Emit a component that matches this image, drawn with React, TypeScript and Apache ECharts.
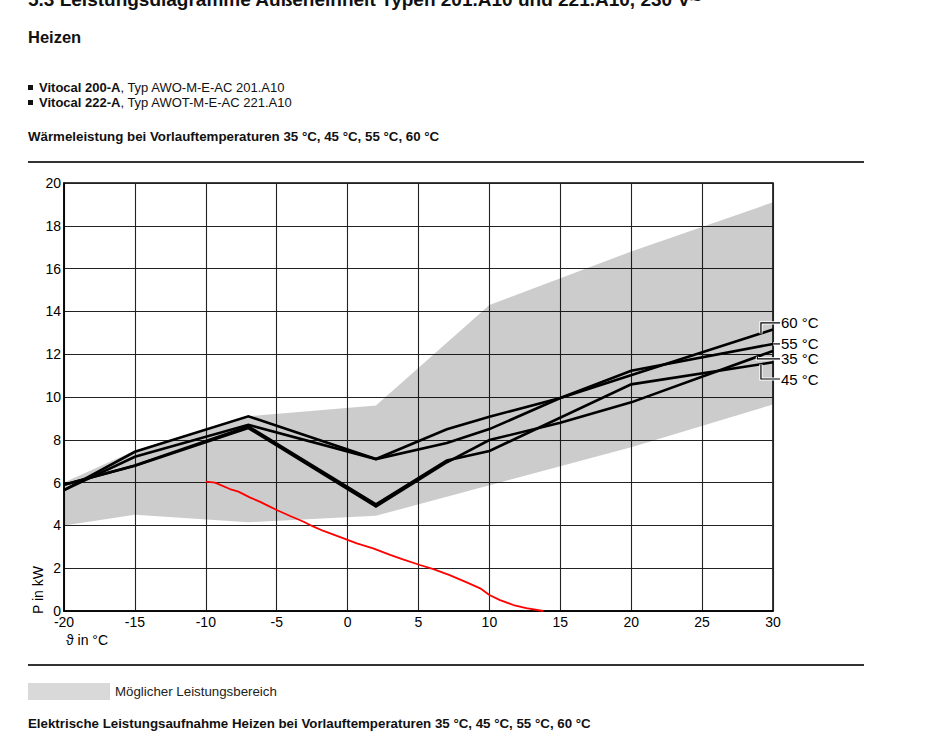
import React, { useEffect, useRef } from "react";
import * as echarts from "echarts";

// ---- data ----
const xMin = -20;
const xMax = 30;
const xStep = 5;
const yMin = 0;
const yMax = 20;
const yStep = 2;

// possible output range (upper and lower boundary)
const bandUpper: [number, number][] = [
  [-20, 6.0], [-15, 7.5], [-7, 9.1], [2, 9.6], [10, 14.3], [20, 16.8], [30, 19.1],
];
const bandLower: [number, number][] = [
  [-20, 4.0], [-15, 4.5], [-7, 4.15], [2, 4.45], [20, 7.65], [30, 9.65],
];

// heat output per flow temperature
const line35: [number, number][] = [
  [-20, 5.9], [-15, 6.79], [-7, 8.55], [2, 4.88], [7, 6.95], [10, 7.99], [15, 8.8], [20, 9.75], [30, 12.15],
];
const line45: [number, number][] = [
  [-20, 5.9], [-15, 6.8], [-7, 8.63], [2, 4.98], [7, 7.03], [10, 7.48], [20, 10.59], [30, 11.62],
];
const line55: [number, number][] = [
  [-20, 5.65], [-15, 7.44], [-7, 9.1], [2, 7.1], [7, 8.49], [10, 9.08], [15, 9.95], [20, 11.23], [30, 12.48],
];
const line60: [number, number][] = [
  [-20, 5.65], [-15, 7.21], [-7, 8.7], [2, 7.1], [7, 7.85], [10, 8.5], [15, 9.95], [30, 13.15],
];

// red curve
const redLine: [number, number][] = [
  [-10, 6.05], [-9.35, 6.0], [-8.3, 5.7], [-7.7, 5.58], [-6.9, 5.31], [-6.2, 5.11], [-5.7, 4.95],
  [-5, 4.72], [-4.05, 4.44], [-3.1, 4.17], [-2.4, 3.94], [-1.7, 3.74], [-0.8, 3.52], [0, 3.32],
  [0.65, 3.16], [1.8, 2.93], [3, 2.62], [3.9, 2.41], [5.1, 2.15], [6.05, 1.96], [7.2, 1.68],
  [8.4, 1.34], [9.35, 1.06], [10, 0.75], [10.75, 0.51], [11.7, 0.28], [12.6, 0.13], [13.8, 0],
];

const seriesLabels = ["60 °C", "55 °C", "35 °C", "45 °C"];
const seriesForLabels = [line60, line55, line35, line45];
// annotation layout: where the leader touches the curve, and label height (data units)
const leaderAnchorX = [29.15, 30, 28.9, 29.15];
const labelLevel: (number | null)[] = [13.46, null, 11.78, 10.84];

const FONT = "'Liberation Sans', Arial, Helvetica, sans-serif";

function interp(line: [number, number][], x: number): number {
  for (let i = 0; i < line.length - 1; i++) {
    const [x0, y0] = line[i];
    const [x1, y1] = line[i + 1];
    if (x >= x0 && x <= x1) return y0 + ((y1 - y0) * (x - x0)) / (x1 - x0);
  }
  return line[line.length - 1][1];
}

function baseGraphics(): any[] {
  const txt = (x: number, y: number, text: string, size: number, bold = false, color = "#111") => ({
    type: "text",
    x,
    y,
    silent: true,
    style: {
      text,
      fill: color,
      font: `${bold ? "bold " : ""}${size}px ${FONT}`,
      textVerticalAlign: "middle",
      textAlign: "left",
    },
  });
  const richTxt = (x: number, y: number, boldPart: string, rest: string) => ({
    type: "text",
    x,
    y,
    silent: true,
    style: {
      text: `{b|${boldPart}}${rest}`,
      fill: "#111",
      fontSize: 13,
      fontFamily: FONT,
      verticalAlign: "middle",
      align: "left",
      rich: { b: { fontWeight: "bold", fontSize: 13, fontFamily: FONT, fill: "#111" } },
    },
  });
  return [
    txt(28, -1, "5.3 Leistungsdiagramme Außeneinheit Typen 201.A10 und 221.A10, 230 V~", 19, true),
    txt(28, 37, "Heizen", 16.5, true),
    { type: "rect", shape: { x: 28, y: 85, width: 5, height: 5 }, style: { fill: "#111" } },
    richTxt(39, 87, "Vitocal 200-A", ", Typ AWO-M-E-AC 201.A10"),
    { type: "rect", shape: { x: 28, y: 100, width: 5, height: 5 }, style: { fill: "#111" } },
    richTxt(39, 102, "Vitocal 222-A", ", Typ AWOT-M-E-AC 221.A10"),
    txt(28, 136, "Wärmeleistung bei Vorlauftemperaturen 35 °C, 45 °C, 55 °C, 60 °C", 13.3, true),
    { type: "line", shape: { x1: 28, y1: 162, x2: 864, y2: 162 }, style: { stroke: "#333", lineWidth: 2 } },
    { type: "line", shape: { x1: 28, y1: 665, x2: 864, y2: 665 }, style: { stroke: "#333", lineWidth: 2 } },
    { type: "rect", shape: { x: 28, y: 683, width: 82, height: 17 }, style: { fill: "#d9d9d9" } },
    txt(115, 691, "Möglicher Leistungsbereich", 13.3, false, "#222"),
    txt(28, 723, "Elektrische Leistungsaufnahme Heizen bei Vorlauftemperaturen 35 °C, 45 °C, 55 °C, 60 °C", 13.3, true),
    txt(66, 640, "ϑ in °C", 14, false, "#000"),
    {
      type: "text",
      x: 38,
      y: 590,
      rotation: Math.PI / 2,
      silent: true,
      style: {
        text: "P in kW",
        fill: "#000",
        font: `14px ${FONT}`,
        textAlign: "center",
        textVerticalAlign: "middle",
      },
    },
  ];
}

export default function App() {
  const ref = useRef<HTMLDivElement>(null);

  useEffect(() => {
    if (!ref.current) return;
    const chart = echarts.init(ref.current, undefined, { renderer: "svg" });

    const lineSeries = (data: [number, number][], name: string) => ({
      type: "line",
      name,
      data,
      showSymbol: false,
      symbol: "none",
      z: 3,
      lineStyle: { color: "#000", width: 2.6, join: "miter" },
      silent: true,
    });

    const option: any = {
      animation: false,
      grid: {
        left: 64,
        right: 152,
        top: 183,
        bottom: 132,
        show: true,
        borderColor: "#000",
        borderWidth: 1.5,
        backgroundColor: "transparent",
      },
      xAxis: {
        type: "value",
        min: xMin,
        max: xMax,
        interval: xStep,
        axisLine: { show: true, onZero: false, lineStyle: { color: "#000", width: 1.5 } },
        axisTick: { show: false },
        axisLabel: { color: "#000", fontSize: 14, fontFamily: FONT, margin: 5, lineHeight: 12 },
        splitLine: { show: true, lineStyle: { color: "#222", width: 1.1 } },
      },
      yAxis: {
        type: "value",
        min: yMin,
        max: yMax,
        interval: yStep,
        axisLine: { show: true, onZero: false, lineStyle: { color: "#000", width: 1.5 } },
        axisTick: { show: false },
        axisLabel: { color: "#000", fontSize: 14, fontFamily: FONT, margin: 3, lineHeight: 12 },
        splitLine: { show: true, lineStyle: { color: "#222", width: 1.1 } },
      },
      series: [
        {
          type: "custom",
          name: "band",
          z: 1,
          silent: true,
          data: [[xMin, yMin]],
          clip: true,
          renderItem: (_params: any, api: any) => {
            const pts = bandUpper
              .map((p) => api.coord(p))
              .concat(bandLower.slice().reverse().map((p) => api.coord(p)));
            return {
              type: "polygon",
              shape: { points: pts },
              style: { fill: "rgba(0,0,0,0.2)", stroke: "none" },
            };
          },
        },
        lineSeries(line35, "35 °C"),
        lineSeries(line45, "45 °C"),
        lineSeries(line55, "55 °C"),
        lineSeries(line60, "60 °C"),
        {
          type: "line",
          name: "red",
          data: redLine,
          symbol: "none",
          showSymbol: false,
          z: 4,
          silent: true,
          lineStyle: { color: "#ff0000", width: 1.8 },
        },
      ],
      graphic: baseGraphics(),
    };

    chart.setOption(option);

    // leaders + labels computed through the chart's own scales
    const extra: any[] = [];
    const endPx = chart.convertToPixel({ gridIndex: 0 } as any, [xMax, 0]) as number[];
    const labelX = endPx[0] + 8;
    seriesLabels.forEach((label, i) => {
      const line = seriesForLabels[i];
      const ax = leaderAnchorX[i];
      const ay = interp(line, ax);
      const a = chart.convertToPixel({ gridIndex: 0 } as any, [ax, ay]) as number[];
      const lvl = labelLevel[i];
      const ly = lvl === null ? a[1] : (chart.convertToPixel({ gridIndex: 0 } as any, [ax, lvl]) as number[])[1];
      const pts = [
        [labelX - 1, ly],
        [a[0], ly],
        [a[0], a[1]],
      ];
      extra.push({
        type: "polyline",
        z: 10,
        shape: { points: pts },
        style: { stroke: "#fff", lineWidth: 3.2, fill: null },
      });
      extra.push({
        type: "polyline",
        z: 11,
        shape: { points: pts },
        style: { stroke: "#000", lineWidth: 1.2, fill: null },
      });
      extra.push({
        type: "text",
        z: 11,
        x: labelX,
        y: ly,
        style: {
          text: label,
          fill: "#000",
          font: `15px ${FONT}`,
          lineHeight: 13,
          textAlign: "left",
          textVerticalAlign: "middle",
        },
      });
    });

    chart.setOption({ graphic: baseGraphics().concat(extra) });

    return () => {
      chart.dispose();
    };
  }, []);

  return (
    <div
      ref={ref}
      style={{ position: "fixed", left: 0, top: 0, width: 925, height: 743, background: "#fff" }}
    />
  );
}
